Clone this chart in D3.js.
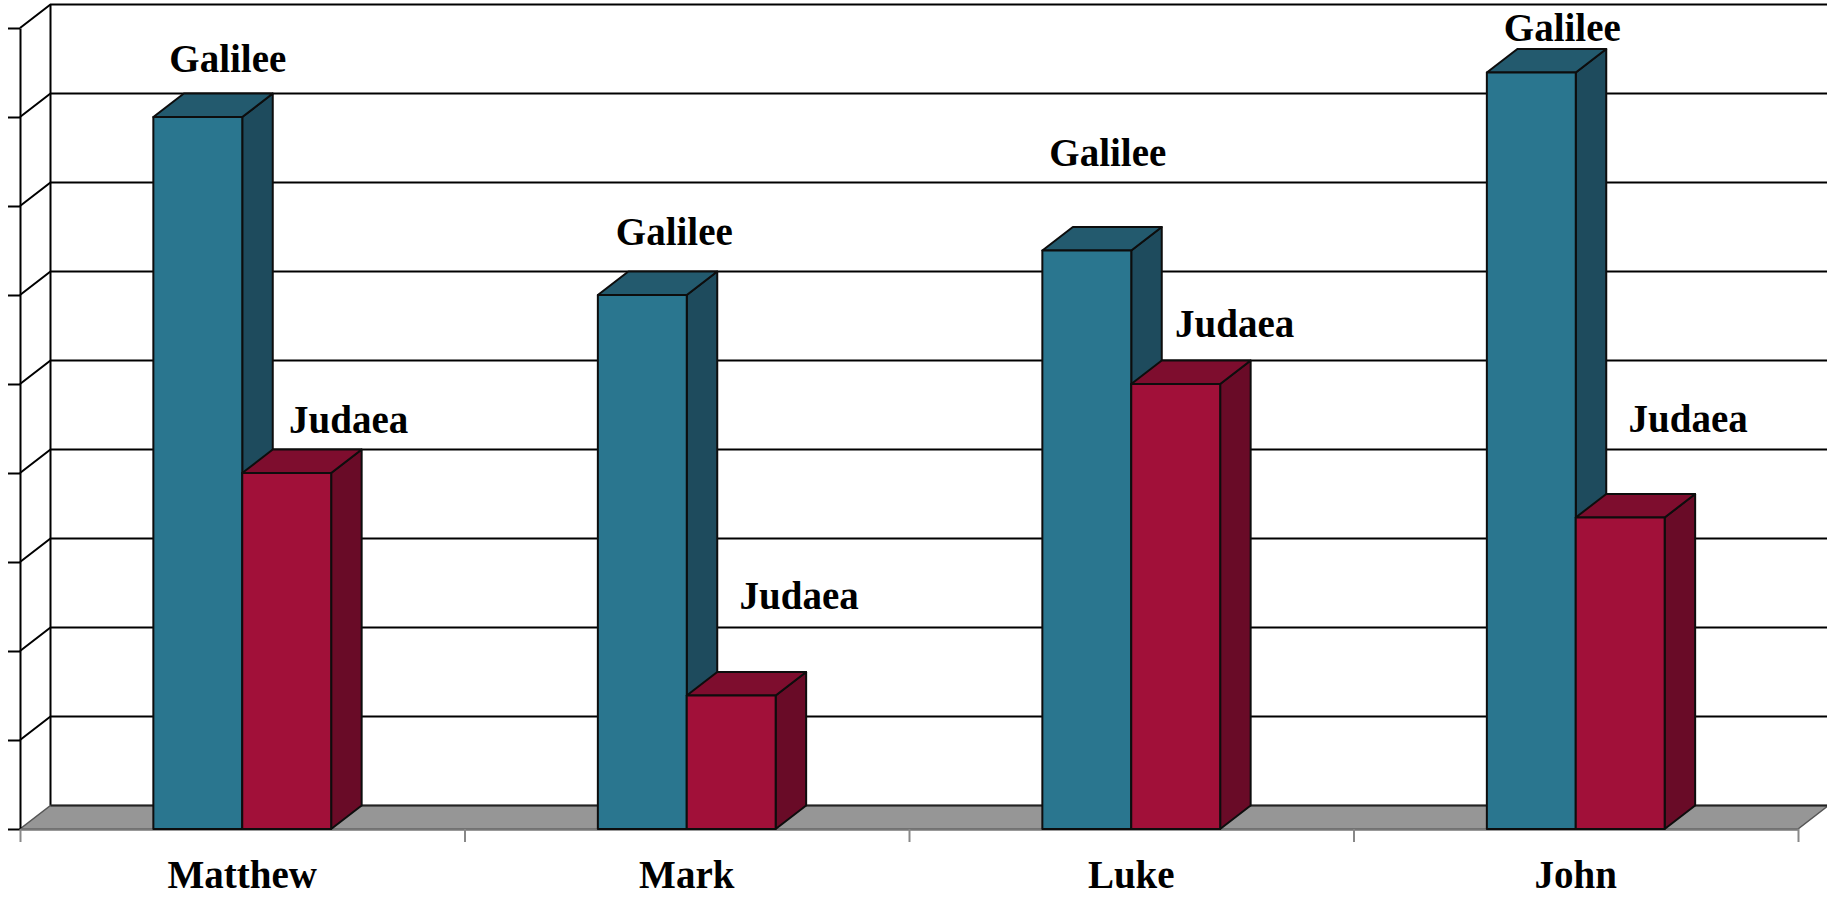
<!DOCTYPE html>
<html><head><meta charset="utf-8">
<script src="https://cdn.jsdelivr.net/npm/d3@7"></script>
<style>
html,body{margin:0;padding:0;background:#fff;overflow:hidden}
text{font-family:"Liberation Serif","DejaVu Serif",serif;font-weight:bold}
</style>
</head><body>
<svg id="chart" width="1827" height="901"></svg>
<script>
// ---- data ----
const categories = ["Matthew", "Mark", "Luke", "John"];
const seriesNames = ["Galilee", "Judaea"];
const galilee = [8, 6, 6.5, 8.5];
const judaea = [4, 1.5, 5, 3.5];
const yTicks = [0, 1, 2, 3, 4, 5, 6, 7, 8, 9];

// ---- layout ----
const W = 1827, H = 901;
const plot = { left: 20, right: 1798, bottom: 829, top: 28 };
const depth = { dx: 30.5, dy: 23.5 };
const colors = {
  Galilee: { front: "#2a768f", top: "#235a6e", side: "#1e4b5d" },
  Judaea: { front: "#a11039", top: "#7e0d2e", side: "#690b27" }
};
// hand-placed data labels in the original (pixel offsets from bar front-top centre)
const labelOffsets = {
  Galilee: [[30, -45], [32, -50], [21, -85], [31, -32]],
  Judaea: [[62, -40], [68, -87], [59, -47], [68, -86]]
};

const svg = d3.select("#chart");

const x0 = d3.scaleBand().domain(categories).range([plot.left, plot.right]).padding(0);
const bw = x0.bandwidth();
const x1 = d3.scaleBand().domain(seriesNames).range([bw * 0.3, bw * 0.7]).padding(0);
const y = d3.scaleLinear().domain([0, 9]).range([plot.bottom, plot.top]);
const xIdx = d3.scaleLinear().domain([0, categories.length]).range([plot.left, plot.right]);

// ---- walls: side wall diagonals + back wall gridlines ----
const grid = svg.append("g").attr("fill", "none").attr("stroke", "#000").attr("stroke-width", 2);
yTicks.forEach(t => {
  if (t === 0) return;
  grid.append("path")
    .attr("d", `M${plot.left},${y(t)}L${plot.left + depth.dx},${y(t) - depth.dy}L${W + 10},${y(t) - depth.dy}`);
});
grid.append("line")
  .attr("x1", plot.left + depth.dx).attr("x2", plot.left + depth.dx)
  .attr("y1", y(0) - depth.dy).attr("y2", y(9) - depth.dy);

// ---- floor ----
svg.append("path")
  .attr("d", `M${plot.left},${y(0)}L${plot.right},${y(0)}L${plot.right + depth.dx},${y(0) - depth.dy}L${W + 10},${y(0) - depth.dy}L${plot.left + depth.dx},${y(0) - depth.dy}Z`)
  .attr("fill", "#969696").attr("stroke", "#555").attr("stroke-width", 1.5);
svg.append("line")
  .attr("x1", plot.left + depth.dx).attr("x2", W + 10)
  .attr("y1", y(0) - depth.dy).attr("y2", y(0) - depth.dy)
  .attr("stroke", "#222").attr("stroke-width", 2);

// ---- front value axis ----
const yAxis = svg.append("g").attr("transform", `translate(${plot.left},0)`)
  .call(d3.axisLeft(y).tickValues(yTicks).tickFormat("").tickSize(12).tickSizeOuter(0));
yAxis.selectAll("path,line").attr("stroke", "#000").attr("stroke-width", 2);

// ---- bottom category axis ticks ----
const xAxis = svg.append("g").attr("transform", `translate(0,${plot.bottom})`)
  .call(d3.axisBottom(xIdx).tickValues(d3.range(categories.length + 1)).tickFormat("").tickSize(13).tickSizeOuter(0));
xAxis.select(".domain").attr("stroke", "#777").attr("stroke-width", 2.5);
xAxis.selectAll(".tick line").attr("stroke", "#888").attr("stroke-width", 2);

// ---- bars ----
const seriesData = { Galilee: galilee, Judaea: judaea };
const barsG = svg.append("g").attr("stroke", "#0d0d0d").attr("stroke-width", 2).attr("stroke-linejoin", "round");
categories.forEach((cat, i) => {
  seriesNames.forEach(s => {
    const v = seriesData[s][i];
    const xl = x0(cat) + x1(s), xr = xl + x1.bandwidth();
    const yt = y(v), yb = y(0);
    const c = colors[s];
    const g = barsG.append("g");
    g.append("path").attr("fill", c.side)
      .attr("d", `M${xr},${yb}L${xr},${yt}L${xr + depth.dx},${yt - depth.dy}L${xr + depth.dx},${yb - depth.dy}Z`);
    g.append("path").attr("fill", c.top)
      .attr("d", `M${xl},${yt}L${xl + depth.dx},${yt - depth.dy}L${xr + depth.dx},${yt - depth.dy}L${xr},${yt}Z`);
    g.append("rect").attr("fill", c.front)
      .attr("x", xl).attr("y", yt).attr("width", xr - xl).attr("height", yb - yt);
  });
});

// ---- data labels ----
const labG = svg.append("g").attr("font-size", 39).attr("text-anchor", "middle").attr("fill", "#000");
categories.forEach((cat, i) => {
  seriesNames.forEach(s => {
    const v = seriesData[s][i];
    const cx = x0(cat) + x1(s) + x1.bandwidth() / 2;
    const off = labelOffsets[s][i];
    labG.append("text").attr("x", cx + off[0]).attr("y", y(v) + off[1]).text(s);
  });
});

// ---- category labels ----
svg.append("g").attr("font-size", 39).attr("text-anchor", "middle")
  .selectAll("text").data(categories).join("text")
  .attr("x", d => x0(d) + bw / 2).attr("y", 888).text(d => d);
</script>
</body></html>
